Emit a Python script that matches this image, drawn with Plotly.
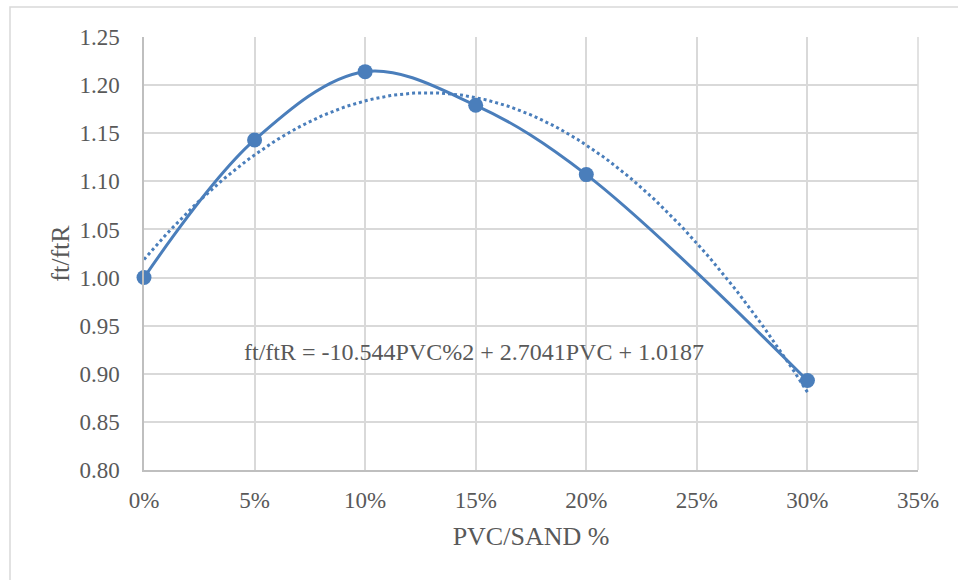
import numpy as np
import plotly.graph_objects as go

# Data
pvc_sand = [0.00, 0.05, 0.10, 0.15, 0.20, 0.30]
ft_ratio = [1.000, 1.143, 1.214, 1.179, 1.107, 0.893]
# Polynomial trendline coefficients (from the chart's equation): a*x^2 + b*x + c
trend_coef = [-10.544, 2.7041, 1.0187]
equation_text = "ft/ftR = -10.544PVC%2 + 2.7041PVC + 1.0187"
x_ticks = [0.00, 0.05, 0.10, 0.15, 0.20, 0.25, 0.30, 0.35]
x_tick_labels = ["0%", "5%", "10%", "15%", "20%", "25%", "30%", "35%"]
y_ticks = [0.80, 0.85, 0.90, 0.95, 1.00, 1.05, 1.10, 1.15, 1.20, 1.25]

blue = "#4a7ebb"
text_color = "#595959"
font_family = "Liberation Serif"

trend_x = np.linspace(min(pvc_sand), max(pvc_sand), 200)
trend_y = np.polyval(trend_coef, trend_x)

fig = go.Figure()
fig.add_trace(go.Scatter(
    x=trend_x, y=trend_y, mode="lines",
    line=dict(color=blue, width=3, dash="dot"),
    hoverinfo="skip", showlegend=False,
))
fig.add_trace(go.Scatter(
    x=pvc_sand, y=ft_ratio, mode="lines+markers",
    line=dict(color=blue, width=3, shape="spline", smoothing=1.0),
    marker=dict(color=blue, size=15),
    cliponaxis=False,
    showlegend=False,
))

fig.add_annotation(
    x=0.149, y=0.9226, xref="x", yref="y",
    text=equation_text, showarrow=False,
    font=dict(family=font_family, size=24, color=text_color),
    xanchor="center", yanchor="middle",
)

# Outer chart border
fig.add_shape(
    type="rect", xref="paper", yref="paper",
    x0=(10 - 144) / 774, x1=(962 - 144) / 774,
    y0=(470 - 590) / 433, y1=(470 - 7) / 433,
    line=dict(color="#d9d9d9", width=1.5), fillcolor="rgba(0,0,0,0)", layer="below",
)

fig.update_layout(
    width=958, height=580,
    margin=dict(l=144, r=40, t=37, b=110),
    paper_bgcolor="white", plot_bgcolor="white",
    font=dict(family=font_family, size=23, color=text_color),
)
fig.update_xaxes(
    range=[x_ticks[0], x_ticks[-1]],
    tickvals=x_ticks, ticktext=x_tick_labels,
    showgrid=True, gridcolor="#d9d9d9", gridwidth=1.5,
    showline=True, linecolor="#bfbfbf", linewidth=1.5,
    zeroline=False, ticks="", ticklen=0, ticklabelstandoff=9,
    title=dict(text="PVC/SAND %", font=dict(family=font_family, size=26, color=text_color), standoff=14),
    tickfont=dict(family=font_family, size=23, color=text_color),
)
fig.update_yaxes(
    range=[y_ticks[0], y_ticks[-1]],
    tickvals=y_ticks, ticktext=[f"{v:.2f}" for v in y_ticks],
    showgrid=True, gridcolor="#d9d9d9", gridwidth=1.5,
    showline=True, linecolor="#bfbfbf", linewidth=1.5,
    zeroline=False, ticks="", ticklen=0, ticklabelstandoff=18,
    title=dict(text="ft/ftR", font=dict(family=font_family, size=26, color=text_color), standoff=2),
    tickfont=dict(family=font_family, size=23, color=text_color),
)
fig.add_shape(type="line", xref="paper", yref="paper", x0=1, x1=1, y0=0, y1=1,
              line=dict(color="#d9d9d9", width=1.5), layer="below")

fig.write_html("out.html")
